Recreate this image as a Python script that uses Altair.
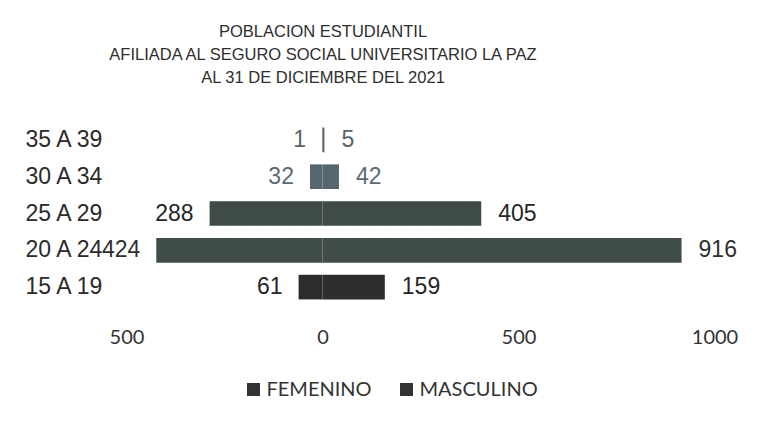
import altair as alt
import pandas as pd

grupos = ["35 A 39", "30 A 34", "25 A 29", "20 A 24", "15 A 19"]
femenino = [1, 32, 288, 424, 61]
masculino = [5, 42, 405, 916, 159]
sexos = ["FEMENINO", "MASCULINO"]
ticks = [-500, 0, 500, 1000]
titulo = ["POBLACION ESTUDIANTIL",
          "AFILIADA AL SEGURO SOCIAL UNIVERSITARIO LA PAZ",
          "AL 31 DE DICIEMBRE DEL 2021"]

bar_colors = ["#5a6a72", "#56666e", "#3e4b49", "#3f4c4a", "#2d2d2d"]
text_colors = ["#55646b", "#5a6a71", "#262626", "#303030", "#262626"]

rows = []
for g, f, m in zip(grupos, femenino, masculino):
    rows.append({"grupo": g, "sexo": sexos[0], "valor": f, "pos": -f})
    rows.append({"grupo": g, "sexo": sexos[1], "valor": m, "pos": m})
df = pd.DataFrame(rows)

y_enc = alt.Y("grupo:N", sort=grupos, title=None,
              scale=alt.Scale(domain=grupos, paddingInner=0.33, paddingOuter=0.165),
              axis=alt.Axis(labelAlign="left", labelPadding=101.5, tickSize=0,
                            ticks=False, domain=False, labelFont="Liberation Sans",
                            labelFontSize=23, labelColor="#2a2a2a", labelLimit=200))
y_plain = alt.Y("grupo:N", sort=grupos, scale=alt.Scale(domain=grupos))
x_enc = alt.X("pos:Q", title=None,
              scale=alt.Scale(domain=[-500, 1000], nice=False, zero=True),
              axis=alt.Axis(values=ticks, labelExpr="format(abs(datum.value), 'd')",
                            grid=False, domain=False, ticks=False, tickSize=0,
                            labelPadding=22, labelFont="Lato", labelFontSize=20,
                            labelColor="#333333", labelFlush=False))

base = alt.Chart(df)

bars = base.mark_bar().encode(
    x=x_enc,
    y=y_enc,
    fill=alt.Fill("grupo:N", sort=grupos, legend=None,
                  scale=alt.Scale(domain=grupos, range=bar_colors)),
)

sep = base.transform_filter(alt.datum.sexo == sexos[0]).mark_rule(
    color="white", strokeWidth=1
).encode(x=alt.datum(0), y=y_plain)

legend_layer = base.mark_point(shape="square", filled=True, opacity=0).encode(
    x="pos:Q", y=y_plain,
    color=alt.Color("sexo:N", sort=sexos, title=None,
                    scale=alt.Scale(domain=sexos, range=["#333333", "#333333"]),
                    legend=alt.Legend(orient="none", direction="horizontal",
                                      legendX=117, legendY=258, symbolType="square",
                                      symbolSize=169, symbolOpacity=1,
                                      symbolStrokeWidth=0,
                                      labelFont="Lato", labelFontSize=20,
                                      labelColor="#333333", labelOffset=3,
                                      columnPadding=24, padding=0)),
)

txt_f = base.transform_filter(alt.datum.sexo == sexos[0]).mark_text(
    align="right", baseline="middle", dx=-16, font="Liberation Sans", fontSize=23
).encode(
    x="pos:Q", y=y_plain, text="valor:Q",
    fill=alt.Fill("grupo:N", sort=grupos, legend=None,
                  scale=alt.Scale(domain=grupos, range=text_colors)),
)

txt_m = base.transform_filter(alt.datum.sexo == sexos[1]).mark_text(
    align="left", baseline="middle", dx=17, font="Liberation Sans", fontSize=23
).encode(
    x="pos:Q", y=y_plain, text="valor:Q",
    fill=alt.Fill("grupo:N", sort=grupos, legend=None,
                  scale=alt.Scale(domain=grupos, range=text_colors)),
)

chart = alt.layer(bars, sep, legend_layer, txt_f, txt_m).resolve_scale(
    fill="independent"
).properties(
    width=588, height=184,
    autosize=alt.AutoSizeParams(type="none"),
    padding={"left": 118.5, "top": 113.5, "right": 43.5, "bottom": 109},
    background="white",
    title=alt.TitleParams(text=titulo, font="Liberation Sans", fontSize=16.5,
                          fontWeight="normal", color="#2e2e2e", lineHeight=23,
                          anchor="middle", dx=-97.5, offset=35),
).configure_view(stroke=None)

chart.save("out.html", embed_options={"renderer": "svg", "actions": False})
